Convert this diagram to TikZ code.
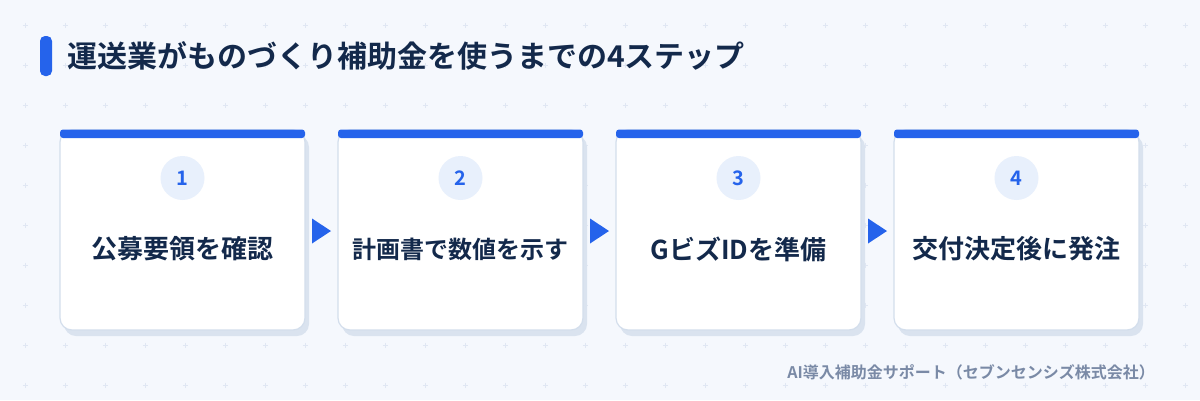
\documentclass[tikz,border=0pt]{standalone}
\usepackage{fontspec}
\setmainfont{Noto Sans CJK JP}[BoldFont={Noto Sans CJK JP Bold}]
\definecolor{bg}{HTML}{F5F8FD}
\definecolor{gridc}{HTML}{E0E7F3}
\definecolor{accent}{HTML}{2563EB}
\definecolor{navy}{HTML}{13294B}
\definecolor{cardline}{HTML}{D3DEEC}
\definecolor{shadowc}{HTML}{DAE3EF}
\definecolor{circfill}{HTML}{E8F0FC}
\definecolor{footc}{HTML}{7A8AA6}
\tikzset{
  cardbody/.style={fill=white,draw=cardline,line width=1.2pt,rounded corners=12pt},
  cardshadow/.style={fill=shadowc,rounded corners=12pt},
  topbar/.style={fill=accent,rounded corners=3pt},
  numcirc/.style={circle,fill=circfill,minimum size=44pt,inner sep=0pt,text=accent,font=\bfseries\fontsize{20}{20}\selectfont},
  steptext/.style={text=navy,font=\bfseries\fontsize{#1}{#1}\selectfont,inner sep=0pt},
  arrowtri/.style={fill=accent},
}
\begin{document}
\begin{tikzpicture}[x=1pt,y=-1pt]
\useasboundingbox (0,0) rectangle (1200,400);
\fill[bg] (0,0) rectangle (1200,400);
% grid pluses
\foreach \gx in {25,65,...,1185}{
  \foreach \gy in {25,65,...,385}{
    \draw[gridc,line width=0.8pt] (\gx-2.5,\gy) -- (\gx+2.5,\gy) (\gx,\gy-2.5) -- (\gx,\gy+2.5);
  }
}
% title
\fill[accent,rounded corners=5pt] (40,36) rectangle (52,76);
\node[anchor=west,text=navy,font=\bfseries\fontsize{30}{30}\selectfont,inner sep=0pt] (title) at (67,56) {運送業がものづくり補助金を使うまでの4ステップ};
% cards
\foreach \i/\lbl/\fs [count=\k from 0] in {1/公募要領を確認/26,2/計画書で数値を示す/24,3/GビズIDを準備/26,4/交付決定後に発注/26}{
  \pgfmathsetmacro{\cx}{60+278*\k}
  \fill[cardshadow] (\cx+4,135) rectangle (\cx+249,336);
  \draw[cardbody] (\cx,130) rectangle (\cx+245,330);
  \fill[topbar] (\cx,129.5) rectangle (\cx+245,138);
  \node[numcirc] (n\i) at (\cx+122.5,178) {\i};
  \node[steptext=\fs] (t\i) at (\cx+122.5,249) {\lbl};
}
% arrows
\foreach \k in {0,1,2}{
  \pgfmathsetmacro{\ax}{312+278*\k}
  \fill[arrowtri] (\ax,218.5) -- (\ax+19,231) -- (\ax,243.5) -- cycle;
}
% footer
\node[anchor=east,text=footc,font=\bfseries\fontsize{16}{16}\selectfont,inner sep=0pt] (foot) at (1155,372) {AI導入補助金サポート（セブンセンシズ株式会社）};
\end{tikzpicture}
\end{document}
